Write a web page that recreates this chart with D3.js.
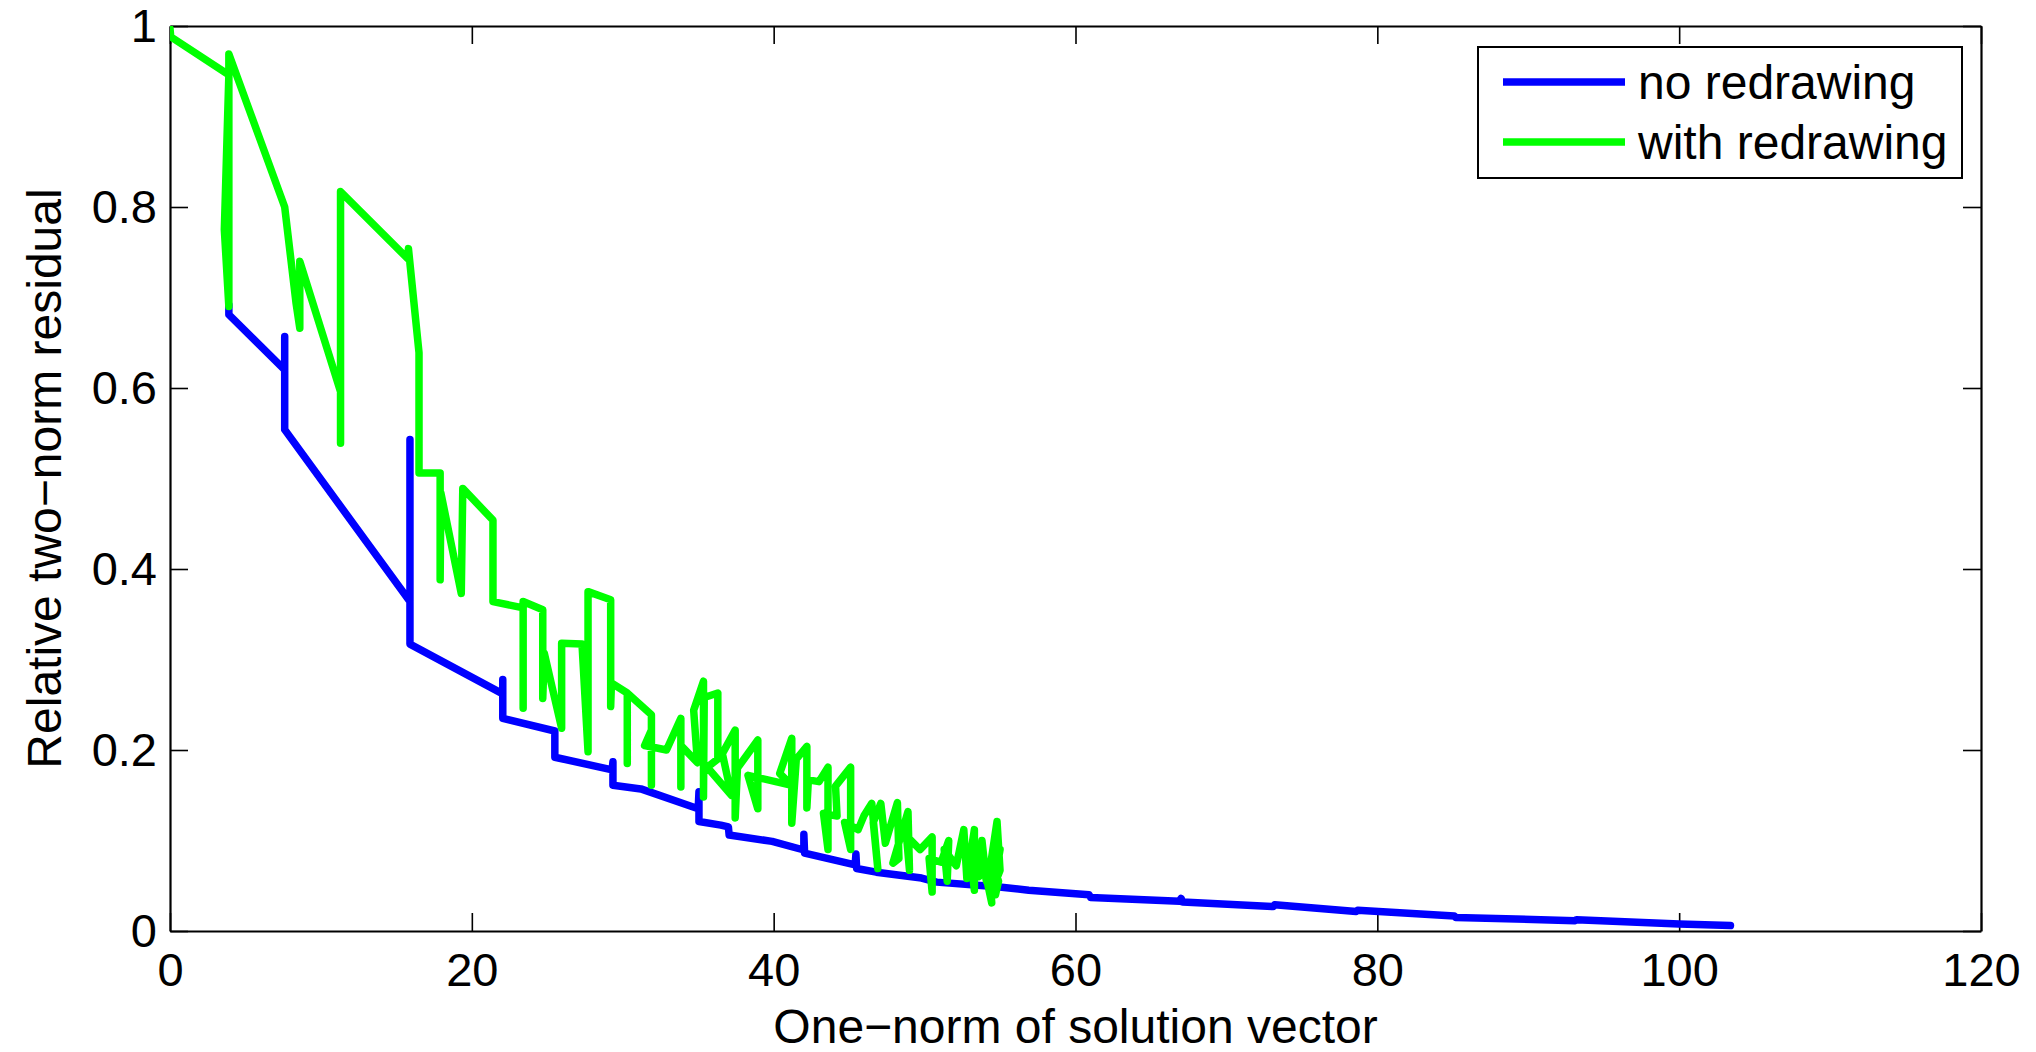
<!DOCTYPE html>
<html>
<head>
<meta charset="utf-8">
<script src="https://cdn.jsdelivr.net/npm/d3@7"></script>
<style>
  body { margin: 0; background: #fff; }
  text { font-family: "Liberation Sans", Arial, Helvetica, sans-serif; fill: #000; }
</style>
</head>
<body>
<div id="chart"></div>
<script>
var seriesNames = ["no redrawing", "with redrawing"];
var seriesColors = ["#0000ff", "#00ff00"];
var xTicks = [0, 20, 40, 60, 80, 100, 120];
var yTicks = [0, 0.2, 0.4, 0.6, 0.8, 1];

// [one-norm, residual]
var noRedrawing = [
  [3.9, 0.692], [3.9, 0.681], [7.6, 0.620], [7.6, 0.657], [7.6, 0.554],
  [15.9, 0.364], [15.9, 0.543], [15.9, 0.317], [22.05, 0.262], [22.05, 0.278],
  [22.05, 0.235], [25.5, 0.221], [25.5, 0.192], [29.3, 0.178], [29.35, 0.187],
  [29.35, 0.161], [31.2, 0.157], [35.0, 0.135], [35.05, 0.154], [35.05, 0.121],
  [36.5, 0.117], [37.0, 0.115], [37.05, 0.106], [39.9, 0.099], [42.0, 0.0895],
  [42.0, 0.107], [42.05, 0.086], [45.4, 0.073], [45.45, 0.085], [45.5, 0.069],
  [46.8, 0.065], [49.8, 0.0585], [50.8, 0.054], [54.8, 0.049], [56.9, 0.045],
  [60.9, 0.040], [61.0, 0.037], [66.9, 0.033], [67.0, 0.036], [67.1, 0.032],
  [73.1, 0.027], [73.2, 0.029], [78.6, 0.0215], [78.7, 0.023], [85.1, 0.0166],
  [85.2, 0.015], [93.1, 0.0114], [93.2, 0.0125], [100, 0.0078], [103.4, 0.006]
];

var withRedrawing = [
  [0, 0.997], [0.05, 0.988], [3.9, 0.946], [3.6, 0.775], [3.9, 0.69],
  [3.9, 0.969], [7.6, 0.80], [8.35, 0.694], [8.6, 0.666], [8.6, 0.74],
  [11.3, 0.596], [11.3, 0.539], [11.3, 0.817], [15.75, 0.743], [15.8, 0.754],
  [16.5, 0.639], [16.5, 0.506], [17.9, 0.506], [17.9, 0.388], [17.95, 0.484],
  [19.3, 0.373], [19.4, 0.489], [21.4, 0.454], [21.4, 0.364], [23.4, 0.357],
  [23.4, 0.246], [23.4, 0.364], [24.7, 0.355], [24.7, 0.257], [24.8, 0.307],
  [25.95, 0.224], [25.95, 0.318], [27.3, 0.317], [27.7, 0.198], [27.7, 0.375],
  [29.2, 0.366], [29.2, 0.248], [29.25, 0.274], [30.3, 0.263], [30.3, 0.185],
  [30.3, 0.263], [31.9, 0.239], [31.9, 0.161], [31.9, 0.222], [31.45, 0.205],
  [32.9, 0.200], [33.85, 0.235], [33.85, 0.159], [33.85, 0.205], [34.95, 0.186],
  [34.7, 0.244], [35.35, 0.276], [35.35, 0.148], [35.4, 0.258], [36.3, 0.263],
  [36.3, 0.19], [35.6, 0.181], [37.2, 0.150], [36.6, 0.196], [37.45, 0.222],
  [37.45, 0.125], [37.6, 0.18], [38.95, 0.211], [38.95, 0.135], [38.3, 0.172],
  [41.2, 0.161], [40.4, 0.174], [41.2, 0.213], [41.2, 0.119], [41.5, 0.19],
  [42.2, 0.204], [42.2, 0.136], [42.3, 0.167], [43.0, 0.165], [43.6, 0.181],
  [43.6, 0.09], [43.3, 0.13], [44.2, 0.127], [44.1, 0.16], [45.1, 0.181],
  [45.1, 0.09], [44.7, 0.12], [45.6, 0.112], [46.0, 0.128], [46.5, 0.141],
  [46.9, 0.069], [46.6, 0.12], [47.1, 0.141], [47.4, 0.097], [48.2, 0.142],
  [48.3, 0.08], [47.9, 0.075], [48.9, 0.132], [49.0, 0.067], [48.8, 0.105],
  [49.7, 0.09], [50.5, 0.104], [50.5, 0.043], [50.3, 0.08], [51.1, 0.076],
  [51.6, 0.10], [51.5, 0.055], [51.3, 0.09], [52.1, 0.072], [52.6, 0.112],
  [52.8, 0.058], [53.3, 0.112], [53.3, 0.045], [53.0, 0.09], [53.6, 0.06],
  [53.8, 0.1], [54.1, 0.055], [53.8, 0.082], [54.45, 0.031], [54.3, 0.065],
  [54.8, 0.121], [55.0, 0.067], [54.6, 0.05], [55.0, 0.09], [54.5, 0.075],
  [54.9, 0.055], [54.7, 0.04]
];

var width = 2036, height = 1052;
var margin = {top: 26, right: 55, bottom: 121, left: 170};
var innerW = width - margin.left - margin.right,
    innerH = height - margin.top - margin.bottom;
var fontSize = 47;

var svg = d3.select("#chart").append("svg")
  .attr("width", width).attr("height", height);

var g = svg.append("g")
  .attr("transform", "translate(" + margin.left + "," + margin.top + ")");

var x = d3.scaleLinear().domain([0, 120]).range([0, innerW]);
var y = d3.scaleLinear().domain([0, 1]).range([innerH, 0]);

g.append("clipPath").attr("id", "plotclip")
  .append("rect").attr("width", innerW).attr("height", innerH);

// ticks point inwards on all four sides, like the matlab box
var fmt = d3.format("~g");
var bottomAxis = g.append("g").attr("transform", "translate(0," + innerH + ")")
  .call(d3.axisBottom(x).tickValues(xTicks).tickFormat(fmt).tickSizeInner(-18).tickSizeOuter(0).tickPadding(22));
var leftAxis = g.append("g")
  .call(d3.axisLeft(y).tickValues(yTicks).tickFormat(fmt).tickSizeInner(-18).tickSizeOuter(0).tickPadding(13));
var topAxis = g.append("g")
  .call(d3.axisTop(x).tickValues(xTicks).tickFormat("").tickSizeInner(-18).tickSizeOuter(0));
var rightAxis = g.append("g").attr("transform", "translate(" + innerW + ",0)")
  .call(d3.axisRight(y).tickValues(yTicks).tickFormat("").tickSizeInner(-18).tickSizeOuter(0));

[bottomAxis, leftAxis, topAxis, rightAxis].forEach(a => {
  a.select(".domain").attr("stroke", "#000").attr("stroke-width", 2.2);
  a.selectAll(".tick line").attr("stroke", "#000").attr("stroke-width", 1.6);
  a.selectAll(".tick text")
    .style("font-family", "'Liberation Sans', Arial, Helvetica, sans-serif")
    .attr("font-size", fontSize).attr("fill", "#000");
});

var line = d3.line()
  .x(d => x(d[0]))
  .y(d => y(d[1]));

var plot = g.append("g").attr("clip-path", "url(#plotclip)");
[noRedrawing, withRedrawing].forEach((data, i) => {
  plot.append("path")
    .datum(data)
    .attr("fill", "none")
    .attr("stroke", seriesColors[i])
    .attr("stroke-width", 7.5)
    .attr("stroke-linejoin", "round")
    .attr("stroke-linecap", "round")
    .attr("d", line);
});

// axis titles
svg.append("text")
  .attr("x", margin.left + innerW / 2)
  .attr("y", 1043)
  .attr("text-anchor", "middle")
  .attr("font-size", fontSize + 1)
  .text("One\u2212norm of solution vector");

svg.append("text")
  .attr("transform", "translate(61," + (margin.top + innerH / 2) + ") rotate(-90)")
  .attr("text-anchor", "middle")
  .attr("font-size", fontSize + 1)
  .text("Relative two\u2212norm residual");

// legend
var legend = svg.append("g").attr("transform", "translate(1478,47)");
legend.append("rect")
  .attr("width", 484).attr("height", 131)
  .attr("fill", "#fff").attr("stroke", "#000").attr("stroke-width", 2);

seriesNames.forEach((name, i) => {
  var row = legend.append("g").attr("transform", "translate(0," + (35 + i * 60) + ")");
  row.append("line")
    .attr("x1", 25).attr("x2", 147)
    .attr("stroke", seriesColors[i]).attr("stroke-width", 7.5);
  row.append("text")
    .attr("x", 160).attr("y", 17)
    .attr("font-size", fontSize + 1)
    .text(name);
});
</script>
</body>
</html>
